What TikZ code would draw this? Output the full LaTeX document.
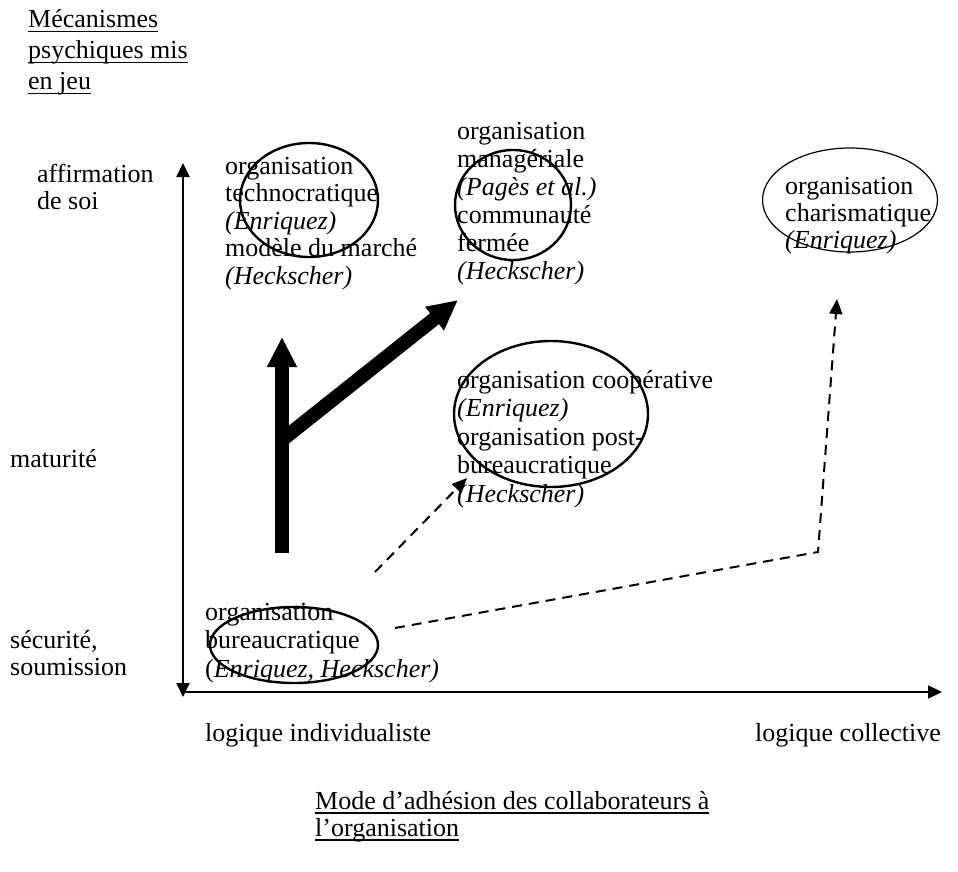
\documentclass[tikz,border=0pt]{standalone}
\usepackage{fontspec}
\setmainfont{Liberation Serif}
\usetikzlibrary{arrows.meta,shapes.geometric,positioning}
\newsavebox{\boiteTitre}
\newcommand{\souligne}[1]{\sbox{\boiteTitre}{#1}\rlap{\rule[-4.5pt]{\wd\boiteTitre}{1.6pt}}\usebox{\boiteTitre}}

\begin{document}
\begin{tikzpicture}[
				x=1pt,y=-1pt,
				txt/.style={anchor=base west,align=left,inner sep=0pt,font=\fontsize{26}{28}\selectfont},
				bulle/.style={draw,ellipse,line width=2.4pt,inner sep=0pt},
				axe/.style={line width=2pt},
				fleche/.style={line width=14pt,-{Triangle[length=30pt,width=28pt]}},
				tirets/.style={line width=2pt,dash pattern=on 10pt off 7pt,-{Triangle[length=15pt,width=13pt]}}
				]
				\useasboundingbox (0,0) rectangle (958,872);
				
				% Titres des axes (ancre = ligne de base de la derniere ligne)
				\node[txt,font=\fontsize{26}{31}\selectfont] (titreY) at (28,90) {\souligne{Mécanismes}\\\souligne{psychiques mis}\\\souligne{en jeu}};
				\node[txt,font=\fontsize{26}{27}\selectfont] (titreX) at (315,836) {\souligne{Mode d'adhésion des collaborateurs à}\\\souligne{l'organisation}};
				
				% Axes
				\coordinate (haut) at (183,163);
				\coordinate (bas) at (183,697);
				\coordinate (origine) at (183,692);
				\coordinate (droite) at (942,692);
				\draw[axe,{Triangle[length=14pt,width=13pt]}-{Triangle[length=14pt,width=13pt]}] (haut) -- (bas);
				\draw[axe,-{Triangle[length=14pt,width=13pt]}] (origine) -- (droite);
				
				% Niveaux
				\node[txt,font=\fontsize{26}{27}\selectfont] (affirmation) at (37,209) {affirmation\\de soi};
				\node[txt] (maturite) at (10,467) {maturité};
				\node[txt,font=\fontsize{26}{27}\selectfont] (securite) at (10,675) {sécurité,\\soumission};
				\node[txt] (individu) at (205,741) {logique individualiste};
				\node[txt] (collectif) at (755,741) {logique collective};
				
				% Organisations
				\node[txt,font=\fontsize{26}{27.5}\selectfont] (techno) at (225,284) {organisation\\technocratique\\\textit{(Enriquez)}\\modèle du marché\\\textit{(Heckscher)}};
				\node[bulle,minimum width=138pt,minimum height=114pt] (ellTechno) at (309,200) {};
				
				\node[txt] (manag) at (457,279) {organisation\\managériale\\\textit{(Pagès et al.)}\\communauté\\fermée\\\textit{(Heckscher)}};
				\node[bulle,minimum width=116pt,minimum height=110pt] (ellManag) at (513,205) {};
				
				\node[txt,font=\fontsize{26}{27}\selectfont] (charis) at (785,248) {organisation\\charismatique\\\textit{(Enriquez)}};
				\node[bulle,line width=1.2pt,minimum width=175pt,minimum height=104pt] (ellCharis) at (850,200) {};
				
				\node[txt,font=\fontsize{26}{28.5}\selectfont] (coop) at (457,502) {organisation coopérative\\\textit{(Enriquez)}\\organisation post-\\bureaucratique\\\textit{(Heckscher)}};
				\node[bulle,minimum width=194pt,minimum height=146pt] (ellCoop) at (551,414) {};
				
				\node[txt,font=\fontsize{26}{28.5}\selectfont] (bureau) at (205,677) {organisation\\bureaucratique\\(\textit{Enriquez, Heckscher)}};
				\node[bulle,minimum width=168pt,minimum height=76pt] (ellBureau) at (294,645) {};
				
				% Fleches pleines
				\coordinate (pied) at (282,553);
				\coordinate (sommet) at (282,337);
				\coordinate (fourche) at (282,440);
				\coordinate (pointe) at (458,300);
				\draw[fleche] (pied) -- (sommet);
				\draw[fleche] (fourche) -- (pointe);
				
				% Fleches en tirets
				\coordinate (depart1) at (375,572);
				\coordinate (arrivee1) at (467,478);
				\draw[tirets] (depart1) -- (arrivee1);
				\coordinate (depart2) at (395,628);
				\coordinate (coude) at (818,552);
				\coordinate (arrivee2) at (837,299);
				\draw[tirets] (depart2) -- (coude) -- (arrivee2);
				
			\end{tikzpicture}
\end{document}
